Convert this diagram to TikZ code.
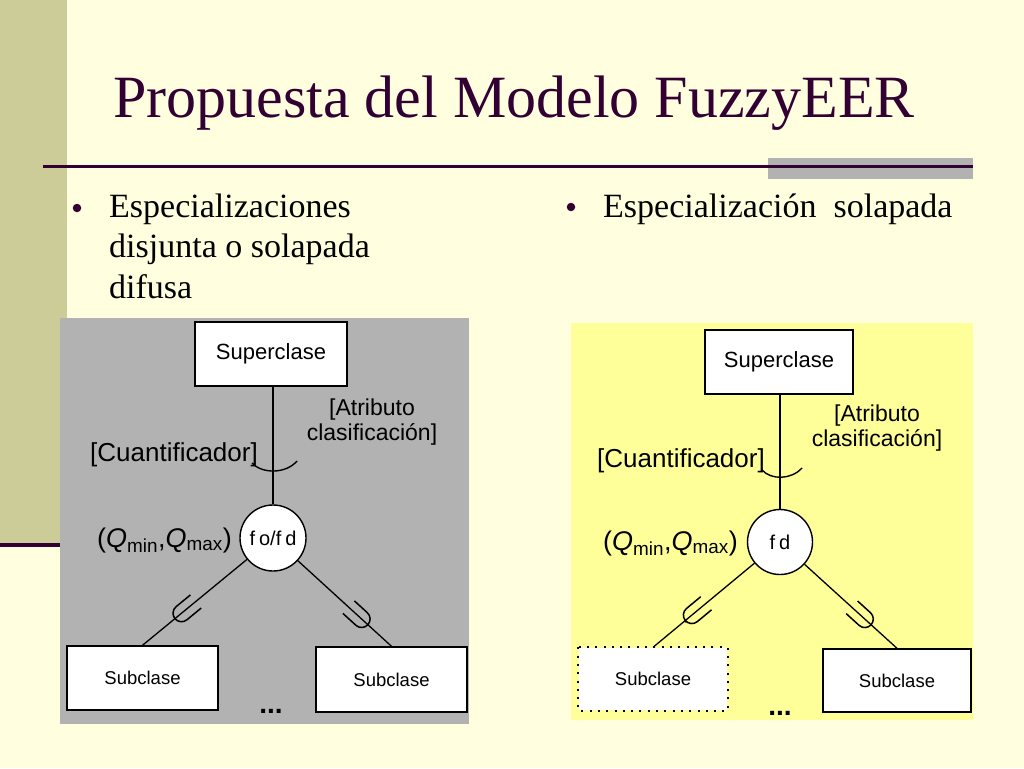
\documentclass[tikz,border=0pt]{standalone}
\usepackage{fontspec}
\setmainfont{Liberation Serif}
\setsansfont{Liberation Sans}
\usetikzlibrary{calc}
\definecolor{bgcream}{HTML}{FFFFE0}
\definecolor{barkhaki}{HTML}{CCCC99}
\definecolor{deeppurple}{HTML}{330033}
\definecolor{panelgray}{HTML}{B2B2B2}
\definecolor{panelyellow}{HTML}{FFFF99}
\newcommand{\usym}[4]{%
  \coordinate (ub) at ($(#2)!#3pt!(#1)$);
  \coordinate (ua) at ($(#2)!#4pt!(#1)$);
  \draw[usty] ($(ua)!8.5pt!90:(#1)$) -- ($(ub)!8.5pt!90:(#1)$) -- ($(ub)!8.5pt!-90:(#1)$) -- ($(ua)!8.5pt!-90:(#1)$);}
\begin{document}
\begin{tikzpicture}[x=1pt,y=-1pt,
  cls/.style={draw=black,line width=1.4pt,fill=white,minimum width=152pt,minimum height=64pt,inner sep=0pt,font=\sffamily\fontsize{22}{26}\selectfont},
  subcls/.style={cls,minimum width=151pt,font=\sffamily\fontsize{18.5}{22}\selectfont},
  dotcls/.style={subcls,draw=none},
  spec/.style={circle,draw=black,line width=1.4pt,fill=white,minimum size=66pt,inner sep=0pt,font=\sffamily\fontsize{20}{24}\selectfont},
  conn/.style={line width=1.3pt},
  usty/.style={line width=1.5pt,rounded corners=8.5pt},
  lbl/.style={inner sep=0pt,font=\sffamily\fontsize{23}{25}\selectfont},
  qlbl/.style={inner sep=0pt,font=\sffamily\fontsize{27}{30}\selectfont},
  quant/.style={inner sep=0pt,font=\sffamily\fontsize{26}{30}\selectfont},
  dots/.style={inner sep=0pt,font=\sffamily\bfseries\fontsize{28}{30}\selectfont},
  bul/.style={inner sep=0pt,anchor=base west,font=\fontsize{34}{40}\selectfont},
  bdot/.style={circle,fill=deeppurple,inner sep=0pt,minimum size=8.5pt}]
\useasboundingbox (0,0) rectangle (1024,768);
% slide background
\fill[bgcream] (0,0) rectangle (1024,768);
\fill[barkhaki] (0,0) rectangle (67,544);
\fill[deeppurple] (0,543) rectangle (62,547);
\fill[panelgray] (768,158) rectangle (973,179);
\draw[deeppurple,line width=3pt] (43,166) -- (973,166);
% title
\node[inner sep=0pt,anchor=base west,text=deeppurple,font=\fontsize{60}{66}\selectfont] (title) at (113,117) {Propuesta del Modelo FuzzyEER};
% bullets
\node[bdot] (b1) at (77,208) {};
\node[bul] (t1a) at (109,217) {Especializaciones};
\node[bul] (t1b) at (109,257.5) {disjunta o solapada};
\node[bul] (t1c) at (109,298) {difusa};
\node[bdot] (b2) at (571,207) {};
\node[bul] (t2) at (603,217) {Especialización \ solapada};
% panels
\fill[panelgray] (60,318) rectangle (469,724);
\fill[panelyellow] (571,323) rectangle (973,720);

% ---------- left diagram ----------
\node[cls] (sup1) at (271,354) {Superclase};
\node[spec] (c1) at (273,538) {f\kern4pt o/f\kern4pt d};
\node[subcls] (s1) at (142.5,678) {Subclase};
\node[subcls,minimum height=65pt] (s2) at (391.5,679.5) {Subclase};
\draw[conn] (c1.north |- sup1.south) -- (c1.north);
\draw[conn] (c1) -- (s1.north);
\draw[conn] (c1) -- (s2.north);
\draw[line width=1.4pt] (252,463) .. controls (262,474) and (286,474) .. (297,461);
\usym{c1}{s1.north}{42}{69}
\usym{c1}{s2.north}{32}{58}
\node[quant,anchor=base east] (q1) at (258,461) {[Cuantificador]};
\node[lbl,align=center,anchor=base] (a1) at (372,440) {[Atributo\\[-0.5pt]clasificación]};
\node[qlbl,anchor=base east] (m1) at (232,547) {(\textit{Q}\textsubscript{min},\textit{Q}\textsubscript{max})};
\node[dots,anchor=base] (d1) at (271,713) {...};

% ---------- right diagram ----------
\node[cls,minimum width=148pt] (sup2) at (779,362) {Superclase};
\node[spec,minimum size=65pt] (c2) at (780,542) {f\kern4pt d};
\node[dotcls,minimum width=148pt,minimum height=62pt,fill=white] (s3) at (653,679) {Subclase};
\draw[line width=2pt,dash pattern=on 2pt off 6.3pt] (s3.north west) rectangle (s3.south east);
\node[subcls,minimum width=148pt,minimum height=63pt] (s4) at (897,680.5) {Subclase};
\draw[conn] (c2.north |- sup2.south) -- (c2.north);
\draw[conn] (c2) -- (s3.north);
\draw[conn] (c2) -- (s4.north);
\draw[line width=1.4pt] (762,470) .. controls (771,480) and (791,480) .. (802,468);
\usym{c2}{s3.north}{42}{69}
\usym{c2}{s4.north}{35}{61}
\node[quant,anchor=base east] (q2) at (765,467) {[Cuantificador]};
\node[lbl,align=center,anchor=base] (a2) at (877,446) {[Atributo\\[-0.5pt]clasificación]};
\node[qlbl,anchor=base east] (m2) at (738,550) {(\textit{Q}\textsubscript{min},\textit{Q}\textsubscript{max})};
\node[dots,anchor=base] (d2) at (780,715) {...};
\end{tikzpicture}
\end{document}
